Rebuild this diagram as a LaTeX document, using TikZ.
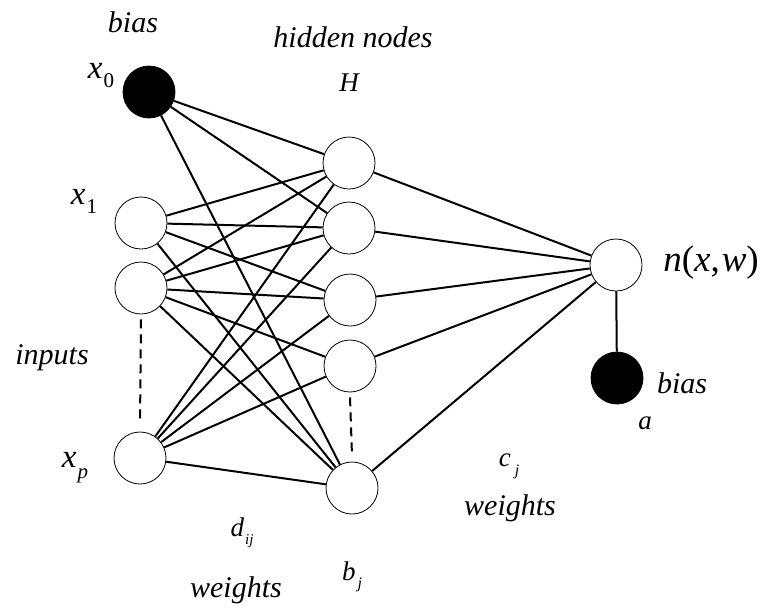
\documentclass[tikz,border=0pt]{standalone}
\usepackage{fontspec}
\setmainfont{Liberation Serif}
\begin{document}
\begin{tikzpicture}[x=1pt,y=-1pt,
  neuron/.style={circle, draw, line width=0.8pt, minimum size=52pt, inner sep=0pt, fill=white},
  biasn/.style={neuron, fill=black},
  conn/.style={line width=2pt},
  dconn/.style={line width=2pt, dash pattern=on 9pt off 6pt},
  lab/.style={font=\fontsize{30}{34}\selectfont\itshape, inner sep=0pt},
  mlab/.style={font=\fontsize{33}{37}\selectfont, inner sep=0pt},
  slab/.style={font=\fontsize{27}{31}\selectfont, inner sep=0pt}
]
\useasboundingbox (0,0) rectangle (762,611);
% neurons
\node[biasn] (x0) at (149,92) {};
\node[neuron] (x1) at (141,223) {};
\node[neuron] (x2) at (141,288) {};
\node[neuron] (xp) at (140,458) {};
\node[neuron] (h1) at (349,163) {};
\node[neuron] (h2) at (349,228) {};
\node[neuron] (h3) at (350,300) {};
\node[neuron] (h4) at (350,366) {};
\node[neuron] (h5) at (352,488) {};
\node[neuron] (out) at (616,265) {};
\node[biasn] (ba) at (617,378) {};
% connectors input -> hidden
\foreach \h in {h1,h2,h5} \draw[conn] (x0) -- (\h);
\foreach \h in {h1,h2,h3,h5} \draw[conn] (x1) -- (\h);
\foreach \h in {h1,h2,h3,h4,h5} \draw[conn] (x2) -- (\h);
\foreach \h in {h1,h2,h3,h4,h5} \draw[conn] (xp) -- (\h);
% hidden -> output
\foreach \h in {h1,h2,h3,h4,h5} \draw[conn] (\h) -- (out);
\draw[conn] (out) -- (ba);
% dashed
\draw[dconn] ([yshift=-5pt]x2.south) -- ([yshift=8pt]xp.north);
\draw[dconn] ([yshift=-5pt]h4.south) -- ([yshift=6pt]h5.north);
% labels
\node[lab] (tbias) at (133,22) {bias};
\node[lab] (thid) at (353,37) {hidden nodes};
\node[slab] (tH) at (349,83) {\itshape H};
\node[mlab] (tx0) at (101,76) {\itshape x\hspace{1pt}\raisebox{-9pt}{\fontsize{21}{24}\selectfont\upshape 0}};
\node[mlab] (tx1) at (84,201) {\itshape x\hspace{1pt}\raisebox{-9pt}{\fontsize{21}{24}\selectfont\upshape 1}};
\node[mlab] (txp) at (75,468) {\itshape x\hspace{1pt}\raisebox{-11pt}{\fontsize{21}{24}\selectfont p}};
\node[lab] (tin) at (52,358) {inputs};
\node[slab] (tdij) at (242,533) {\itshape d\hspace{1pt}\raisebox{-8pt}{\fontsize{15}{17}\selectfont ij}};
\node[lab] (tw1) at (236,590) {weights};
\node[slab] (tbj) at (352,577) {\itshape b\hspace{2pt}\raisebox{-8pt}{\fontsize{16}{18}\selectfont j}};
\node[slab] (tcj) at (509,466) {\itshape c\hspace{4pt}\raisebox{-9pt}{\fontsize{16}{18}\selectfont j}};
\node[lab] (tw2) at (510,508) {weights};
\node[mlab,font=\fontsize{37}{41}\selectfont] (tn) at (711,263) {\itshape n\upshape(\itshape x\upshape,\hspace{2pt}\itshape w\upshape)};
\node[lab] (tb2) at (682,383) {bias};
\node[slab] (ta) at (645,423) {\itshape a};
\end{tikzpicture}
\end{document}
